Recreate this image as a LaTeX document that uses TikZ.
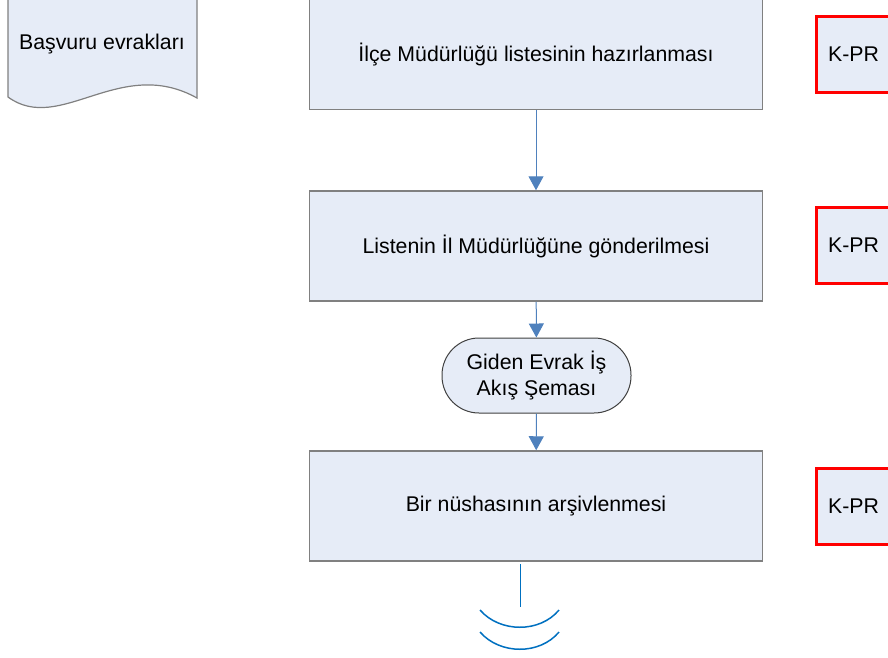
\documentclass[tikz,border=0pt]{standalone}
\usepackage{fontspec}
\setmainfont{Liberation Sans}
\usetikzlibrary{arrows.meta}
\definecolor{kutu}{RGB}{230,236,247}
\definecolor{cizgi}{RGB}{128,128,128}
\definecolor{ok}{RGB}{79,129,189}
\definecolor{bitis}{RGB}{0,112,192}
\tikzset{
  islem/.style={draw=cizgi, line width=1.5pt, fill=kutu, minimum width=453pt, minimum height=110pt, inner sep=0pt},
  kpr/.style={draw=red, line width=3pt, fill=kutu, minimum width=75pt, minimum height=76pt, inner sep=0pt},
  baglanti/.style={draw=black!75, line width=1pt, fill=kutu, rounded corners=37pt, minimum width=189pt, minimum height=75pt, inner sep=0pt, align=center},
}
\begin{document}
\begin{tikzpicture}[x=1pt, y=-1pt, >={Triangle[width=15pt,length=14pt]}, font=\fontsize{21.3}{26}\selectfont]
\useasboundingbox (0,0) rectangle (888,657);
% belge
\draw[cizgi, line width=1.2pt, fill=kutu] (8,-3) -- (8,97) .. controls (60,135) and (120,55) .. (197,98) -- (197,-3) -- cycle;
\node (belge) at (102,44) {Başvuru evrakları};
% adimlar
\node[islem] (a1) at (536,54.5) {İlçe Müdürlüğü listesinin hazırlanması};
\node[islem] (a2) at (536,246) {Listenin İl Müdürlüğüne gönderilmesi};
\node[baglanti] (ge) at (536.5,375.5) {Giden Evrak İş\\Akış Şeması};
\node[islem] (a3) at (536,506) {Bir nüshasının arşivlenmesi};
\foreach \y/\n in {54/k1,245/k2,506.5/k3}
{
    \node[kpr] (\n) at (853.5,\y) {K-PR};
}
\draw[->, ok, line width=1pt] (a1) -- (a2);
\draw[->, ok, line width=1pt] (a2) -- (ge);
\draw[->, ok, line width=1pt] (ge) -- (a3);
% son
\coordinate (bas) at (520.5,564);
\coordinate (uc) at (520.5,607);
\draw[bitis, line width=1.5pt] (bas) -- (uc);
\draw[bitis, line width=1.5pt] (480,610) .. controls (500,633) and (540,633) .. (559,610);
\draw[bitis, line width=1.5pt] (480,632) .. controls (500,655) and (540,655) .. (559,632);
\end{tikzpicture}
\end{document}
